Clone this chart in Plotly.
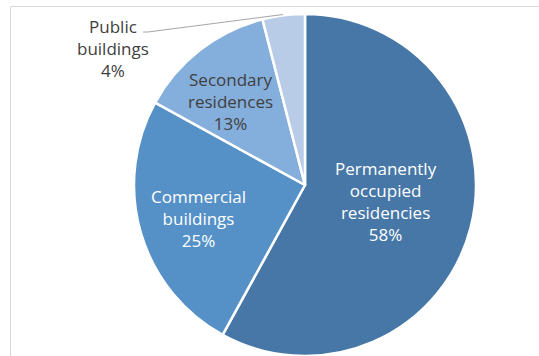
import plotly.graph_objects as go

# Share of building stock by category
categories = ["Permanently occupied residencies", "Commercial buildings",
              "Secondary residences", "Public buildings"]
label_lines = ["Permanently<br>occupied<br>residencies", "Commercial<br>buildings",
               "Secondary<br>residences", "Public<br>buildings"]
shares = [58, 25, 13, 4]

colors = ["#4677A7", "#5591C7", "#84AEDB", "#B8CCE8"]
text_colors = ["white", "white", "#404040", "#404040"]

W, H = 539, 356
cx, cy, r = 305, 185, 171  # pie centre and radius in pixels

fig = go.Figure(go.Pie(
    labels=categories,
    values=shares,
    sort=False,
    direction="clockwise",
    rotation=0,
    textinfo="none",
    hoverinfo="label+percent",
    marker=dict(colors=colors, line=dict(color="white", width=2.5)),
    domain=dict(x=[(cx - r) / W, (cx + r) / W], y=[1 - (cy + r) / H, 1 - (cy - r) / H]),
    showlegend=False,
))

# label anchor points (pixels): centre of each text block
label_pos = [(386, 201), (198, 218), (230, 102), (113, 49)]
annotations = []
for lines, val, col, (px, py) in zip(label_lines, shares, text_colors, label_pos):
    annotations.append(dict(
        x=px / W, y=1 - py / H, xref="paper", yref="paper",
        text=f"{lines}<br>{val}%", showarrow=False,
        font=dict(family="Open Sans", size=17, color=col),
        xanchor="center", yanchor="middle", align="center",
    ))

shapes = [
    # chart-area frame
    dict(type="rect", xref="paper", yref="paper",
         x0=10.5 / W, x1=1.2, y0=-0.2, y1=1 - 6.5 / H,
         line=dict(color="#D9D9D9", width=1), fillcolor="rgba(0,0,0,0)", layer="below"),
    # leader line for the small slice
    dict(type="path", xref="paper", yref="paper",
         path=f"M {143 / W},{1 - 32 / H} L {148 / W},{1 - 32 / H} L {283 / W},{1 - 14.5 / H}",
         line=dict(color="#A6A6A6", width=1.2)),
]

fig.update_layout(
    width=W, height=H,
    margin=dict(l=0, r=0, t=0, b=0),
    paper_bgcolor="white", plot_bgcolor="white",
    annotations=annotations, shapes=shapes,
)

fig.write_html("out.html")
